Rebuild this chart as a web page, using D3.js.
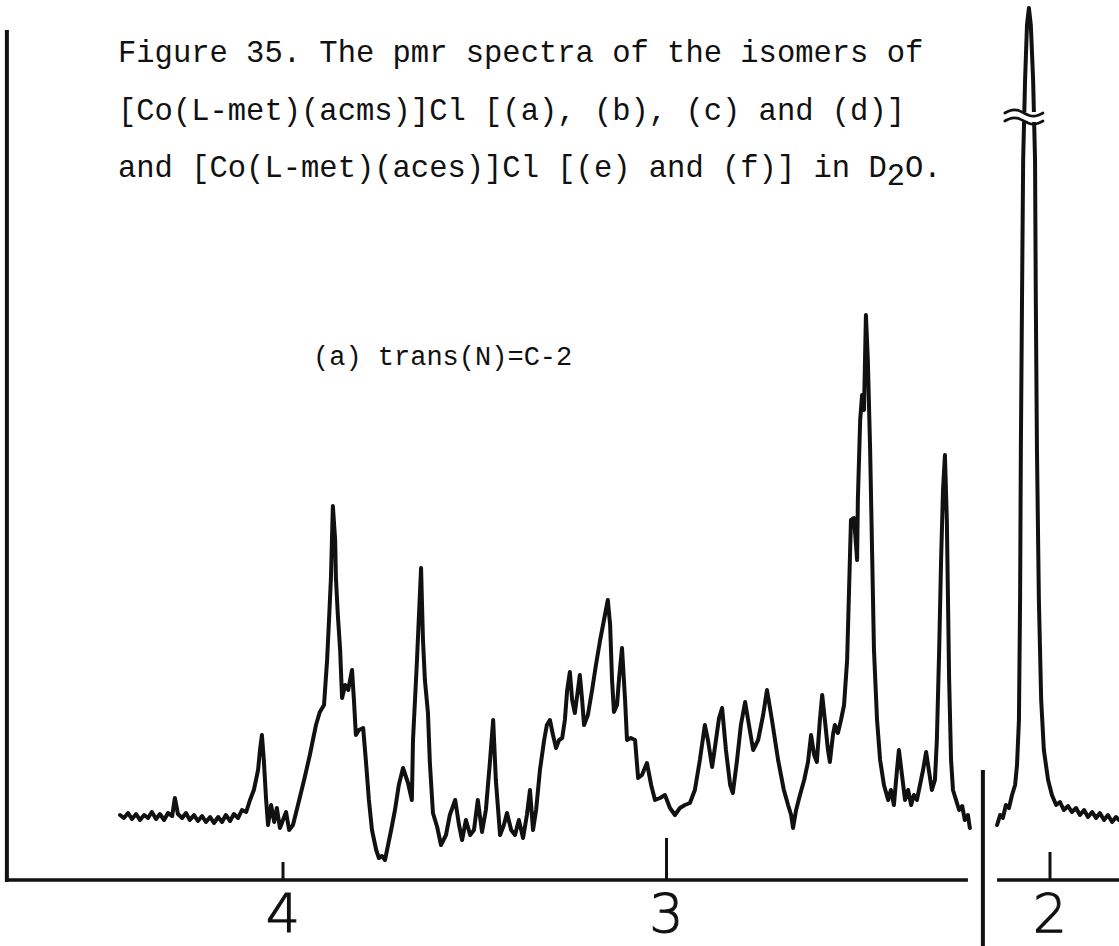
<!DOCTYPE html>
<html>
<head>
<meta charset="utf-8">
<script src="https://cdn.jsdelivr.net/npm/d3@7"></script>
<style>
  html, body { margin: 0; padding: 0; background: #fff; }
  svg { display: block; }
</style>
</head>
<body>
<svg id="chart" width="1119" height="946"></svg>
<script>
// Chemical-shift tick positions (ppm) and their labels
const shiftTicks = [4, 3, 2];
const shiftTickLabels = ["4", "3", "2"];

// Low-field part of the trace: [ppm, intensity]
const traceLow = [
  [4.425, 6.5], [4.415, 6.2], [4.404, 6.7], [4.394, 6.1], [4.383, 6.6], [4.373, 6.0],
  [4.362, 6.5], [4.352, 6.2], [4.342, 6.8], [4.331, 6.1], [4.321, 6.6], [4.310, 6.0],
  [4.300, 6.7], [4.289, 6.4], [4.282, 8.2], [4.274, 6.6], [4.263, 6.2], [4.253, 6.7],
  [4.243, 6.0], [4.232, 6.5], [4.222, 5.9], [4.211, 6.4], [4.201, 5.8], [4.190, 6.3],
  [4.180, 5.7], [4.169, 6.3], [4.159, 5.8], [4.149, 6.5], [4.138, 5.9], [4.128, 6.6],
  [4.117, 6.2], [4.107, 7.0], [4.096, 6.8], [4.086, 8.0], [4.076, 9.0], [4.065, 11.0],
  [4.060, 13.0], [4.055, 14.5], [4.050, 12.0], [4.044, 8.0], [4.039, 5.5], [4.031, 7.5],
  [4.023, 5.8], [4.016, 7.2], [4.008, 5.2], [4.000, 6.0], [3.992, 6.8], [3.984, 5.0],
  [3.974, 5.5], [3.961, 7.5], [3.945, 10.0], [3.930, 12.5], [3.914, 15.5], [3.904, 16.8],
  [3.893, 17.5], [3.885, 22.0], [3.880, 26.0], [3.875, 30.2], [3.870, 37.4], [3.864, 34.0],
  [3.862, 30.2], [3.857, 26.5], [3.851, 23.0], [3.846, 18.2], [3.838, 19.5], [3.830, 19.0],
  [3.820, 21.0], [3.815, 18.0], [3.810, 14.5], [3.802, 15.0], [3.791, 15.2], [3.784, 12.0],
  [3.776, 8.0], [3.768, 5.0], [3.757, 3.0], [3.750, 2.2], [3.742, 2.4], [3.734, 2.0],
  [3.726, 3.5], [3.718, 5.0], [3.708, 7.0], [3.698, 9.5], [3.687, 11.2], [3.674, 9.7],
  [3.664, 8.0], [3.661, 14.0], [3.651, 21.7], [3.640, 31.2], [3.635, 24.0], [3.630, 20.0],
  [3.622, 16.7], [3.617, 11.7], [3.609, 6.7], [3.598, 5.3], [3.588, 3.5], [3.575, 4.5],
  [3.565, 6.5], [3.551, 8.0], [3.541, 5.5], [3.533, 4.0], [3.523, 6.0], [3.512, 4.5],
  [3.502, 5.0], [3.492, 8.0], [3.481, 4.8], [3.471, 7.0], [3.460, 12.0], [3.452, 16.0],
  [3.445, 10.0], [3.434, 4.5], [3.424, 5.5], [3.416, 6.7], [3.405, 5.0], [3.395, 4.5],
  [3.385, 6.0], [3.374, 4.2], [3.364, 6.5], [3.356, 9.0], [3.348, 5.0], [3.340, 7.0],
  [3.330, 11.0], [3.319, 14.0], [3.312, 15.5], [3.304, 16.0], [3.296, 14.5], [3.288, 13.2],
  [3.280, 14.0], [3.272, 14.2], [3.265, 16.0], [3.259, 19.0], [3.252, 20.8], [3.246, 18.0],
  [3.239, 16.7], [3.231, 19.0], [3.226, 20.5], [3.220, 18.0], [3.215, 15.5], [3.205, 16.5],
  [3.194, 19.0], [3.184, 21.5], [3.173, 24.0], [3.163, 26.0], [3.153, 28.0], [3.147, 25.5],
  [3.142, 20.0], [3.137, 16.8], [3.129, 17.5], [3.124, 20.0], [3.116, 23.2], [3.108, 18.0],
  [3.103, 14.0], [3.093, 14.2], [3.082, 14.0], [3.074, 10.2], [3.064, 10.5], [3.051, 11.7],
  [3.040, 9.5], [3.030, 8.0], [3.017, 8.2], [3.004, 8.5], [2.991, 7.2], [2.978, 6.5],
  [2.965, 7.2], [2.952, 7.5], [2.939, 7.7], [2.926, 9.0], [2.913, 12.0], [2.900, 15.5],
  [2.892, 14.0], [2.881, 11.3], [2.871, 14.0], [2.863, 16.2], [2.855, 17.2], [2.845, 13.0],
  [2.834, 9.5], [2.827, 8.7], [2.816, 12.0], [2.806, 15.5], [2.795, 17.8], [2.785, 15.5],
  [2.774, 13.0], [2.761, 14.0], [2.748, 16.5], [2.738, 19.0], [2.725, 16.0], [2.709, 12.0],
  [2.694, 9.0], [2.683, 7.5], [2.675, 6.5], [2.670, 5.2], [2.662, 7.0], [2.652, 8.5],
  [2.641, 10.0], [2.631, 11.8], [2.623, 14.5], [2.615, 12.5], [2.608, 11.8], [2.600, 16.0],
  [2.594, 18.5], [2.587, 16.0], [2.579, 13.0], [2.574, 11.8], [2.566, 14.5], [2.561, 15.5],
  [2.553, 14.7], [2.545, 16.0], [2.537, 17.5], [2.529, 22.0], [2.524, 29.0], [2.519, 36.0],
  [2.511, 36.2], [2.503, 32.0], [2.501, 38.0], [2.495, 46.0], [2.490, 48.5], [2.485, 47.0],
  [2.480, 56.5], [2.475, 52.0], [2.469, 43.0], [2.464, 33.0], [2.459, 23.0], [2.451, 16.0],
  [2.443, 12.0], [2.433, 9.5], [2.422, 8.0], [2.415, 9.0], [2.407, 7.5], [2.399, 11.0],
  [2.394, 13.0], [2.386, 10.5], [2.378, 8.0], [2.370, 9.0], [2.362, 7.5], [2.355, 8.5],
  [2.347, 8.0], [2.339, 9.5], [2.331, 11.0], [2.323, 12.8], [2.316, 11.0], [2.308, 9.0],
  [2.300, 10.0], [2.295, 14.0], [2.289, 23.0], [2.284, 32.0], [2.279, 39.0], [2.274, 42.5],
  [2.269, 36.0], [2.266, 28.0], [2.263, 20.0], [2.258, 12.0], [2.253, 9.0], [2.245, 8.0],
  [2.237, 7.0], [2.229, 7.4], [2.222, 6.0], [2.214, 6.5], [2.209, 5.2]
];

// High-field part of the trace (after the axis break): [ppm, intensity]
const traceHigh = [
  [2.138, 5.5], [2.130, 6.5], [2.123, 6.2], [2.115, 7.5], [2.107, 7.2], [2.099, 8.5],
  [2.091, 9.5], [2.086, 11.5], [2.081, 16.0], [2.078, 28.0], [2.076, 43.0], [2.073, 58.0],
  [2.070, 72.0], [2.065, 80.0], [2.060, 85.5], [2.055, 87.2], [2.050, 85.5], [2.044, 80.0],
  [2.039, 72.0], [2.037, 58.0], [2.034, 43.0], [2.029, 28.0], [2.023, 18.0], [2.016, 13.0],
  [2.005, 10.0], [1.995, 8.5], [1.984, 7.5], [1.974, 7.8], [1.964, 7.0], [1.953, 7.4],
  [1.943, 6.8], [1.932, 7.2], [1.922, 6.5], [1.911, 7.0], [1.901, 6.3], [1.890, 6.8],
  [1.880, 6.2], [1.870, 6.7], [1.859, 6.0], [1.849, 6.5], [1.838, 5.8], [1.828, 6.3],
  [1.820, 6.0]
];

const titleLines = [
  "Figure 35. The pmr spectra of the isomers of",
  "[Co(L-met)(acms)]Cl [(a), (b), (c) and (d)]",
  "and [Co(L-met)(aces)]Cl [(e) and (f)] in D"
];
const spectrumLabel = "(a) trans(N)=C-2";

const svg = d3.select("#chart");
const ink = "#111";

const x = d3.scaleLinear().domain([4, 2]).range([283, 1050]);
const y = d3.scaleLinear().domain([0, 88]).range([880, 0]);

const axisY = y(0);
const breakPpm = 2.175;

// Left frame edge
svg.append("line")
  .attr("x1", x(4.72)).attr("x2", x(4.72))
  .attr("y1", y(85)).attr("y2", axisY + 2)
  .attr("stroke", ink).attr("stroke-width", 4);

// Shift axis, split at the break
svg.append("line")
  .attr("x1", x(4.725)).attr("x2", x(2.214))
  .attr("y1", axisY).attr("y2", axisY)
  .attr("stroke", ink).attr("stroke-width", 3.5);
svg.append("line")
  .attr("x1", x(2.138)).attr("x2", 1119)
  .attr("y1", axisY).attr("y2", axisY)
  .attr("stroke", ink).attr("stroke-width", 3.5);
svg.append("line")
  .attr("x1", x(breakPpm)).attr("x2", x(breakPpm))
  .attr("y1", y(11)).attr("y2", 946)
  .attr("stroke", ink).attr("stroke-width", 4);

// Tick marks and labels
const tickLen = [18, 42, 28];
shiftTicks.forEach((t, i) => {
  svg.append("line")
    .attr("x1", x(t)).attr("x2", x(t))
    .attr("y1", axisY).attr("y2", axisY - tickLen[i])
    .attr("stroke", ink).attr("stroke-width", 3);
  svg.append("text")
    .attr("x", x(t)).attr("y", 932)
    .attr("text-anchor", "middle")
    .attr("font-family", "'DejaVu Sans', sans-serif")
    .attr("font-weight", 200)
    .attr("font-size", 54)
    .attr("fill", ink)
    .attr("stroke", ink)
    .attr("stroke-width", 1.1)
    .text(shiftTickLabels[i]);
});

// Spectrum trace
const line = d3.line().x(d => x(d[0])).y(d => y(d[1]));
[traceLow, traceHigh].forEach(tr => {
  svg.append("path")
    .attr("d", line(tr))
    .attr("fill", "none")
    .attr("stroke", ink)
    .attr("stroke-width", 4)
    .attr("stroke-linejoin", "round")
    .attr("stroke-linecap", "round");
});

// Break mark on the off-scale peak
const bx = x(2.055) - 5, by = 117;
svg.append("rect")
  .attr("x", bx - 18).attr("y", by - 5)
  .attr("width", 36).attr("height", 10)
  .attr("fill", "#fff");
const wave = d3.line().curve(d3.curveBasis);
[by - 4, by + 4].forEach(cy => {
  const pts = d3.range(0, 1.0001, 0.125).map(t => [bx - 19 + 38 * t, cy - 3.5 * Math.sin(2 * Math.PI * t)]);
  svg.append("path")
    .attr("d", wave(pts))
    .attr("fill", "none")
    .attr("stroke", ink)
    .attr("stroke-width", 2.8)
    .attr("stroke-linecap", "round");
});

// Caption
const cap = svg.append("g")
  .attr("font-family", "'Courier New', 'Liberation Mono', monospace")
  .attr("font-size", 30.5)
  .attr("fill", ink);
const baselines = [62, 120, 177];
titleLines.forEach((s, i) => {
  const t = cap.append("text").attr("x", 118).attr("y", baselines[i]).attr("xml:space", "preserve");
  t.append("tspan").text(s);
  if (i === 2) {
    t.append("tspan").attr("dy", 8).text("2");
    t.append("tspan").attr("dy", -8).text("O.");
  }
});

// Spectrum label
svg.append("text")
  .attr("x", 313).attr("y", 365)
  .attr("font-family", "'Courier New', 'Liberation Mono', monospace")
  .attr("font-size", 27)
  .attr("fill", ink)
  .attr("xml:space", "preserve")
  .text(spectrumLabel);
</script>
</body>
</html>
